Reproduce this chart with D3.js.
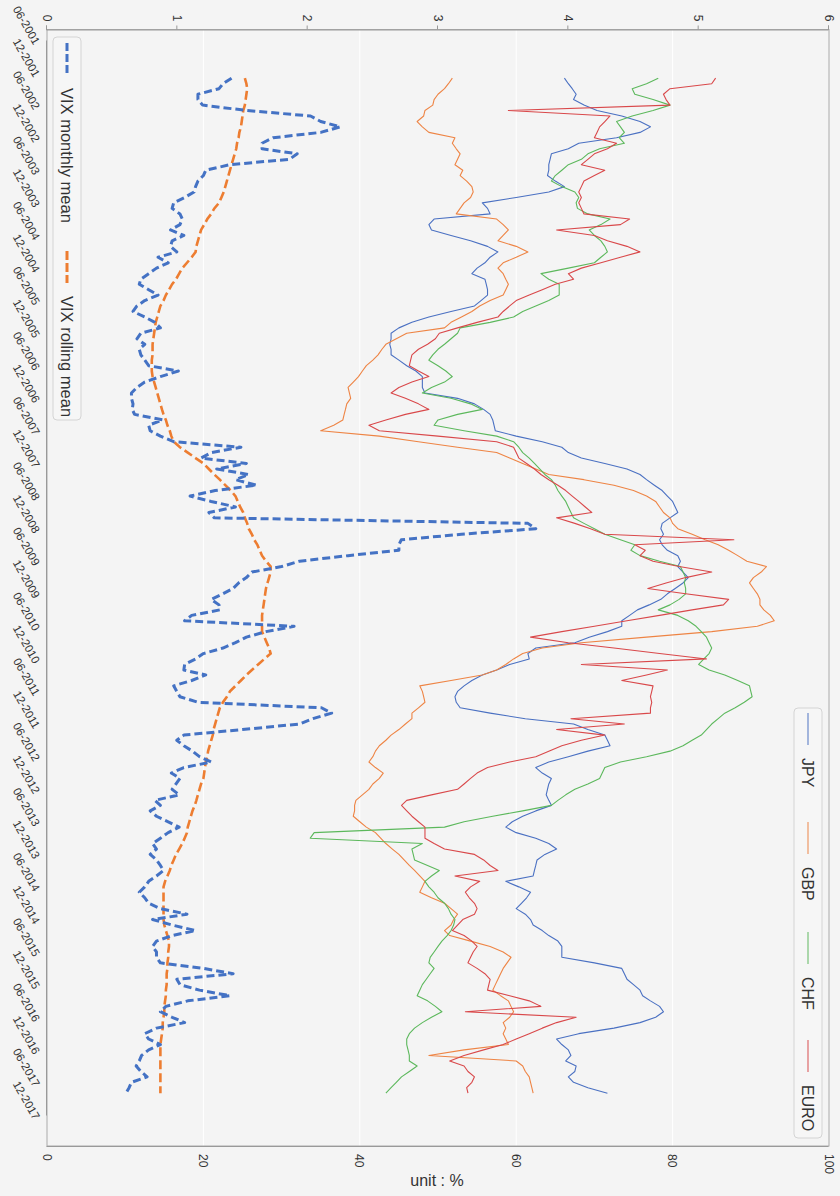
<!DOCTYPE html>
<html><head><meta charset="utf-8">
<script src="https://cdn.jsdelivr.net/npm/d3@7"></script>
<style>html,body{margin:0;padding:0;background:#f4f4f4;}svg{display:block;font-family:"Liberation Sans",Arial,sans-serif;}</style>
</head><body>
<svg id="c" width="840" height="1196"></svg>
<script>
// ---------- data ----------
const startMonth = "01-2002"; // first monthly observation
const dateTickLabels = ["06-2001","12-2001","06-2002","12-2002","06-2003","12-2003","06-2004","12-2004","06-2005","12-2005",
  "06-2006","12-2006","06-2007","12-2007","06-2008","12-2008","06-2009","12-2009","06-2010","12-2010","06-2011","12-2011",
  "06-2012","12-2012","06-2013","12-2013","06-2014","12-2014","06-2015","12-2015","06-2016","12-2016","06-2017","12-2017"];
const fxTicks = [0,1,2,3,4,5,6];
const vixTicks = [0,20,40,60,80,100];
const fxNames = ["JPY","GBP","CHF","EURO"];
const vixNames = ["VIX monthly mean","VIX rolling mean"];

const vixMonthly = [
23.6,22.5,22.0,19.3,19.3,19.9,25.5,33.7,35.0,37.5,35.0,28.9,
27.5,27.5,32.0,31.0,23.4,20.3,20.0,19.3,19.0,18.8,17.6,16.2,
16.0,17.0,17.3,17.0,15.8,17.5,16.0,15.8,16.6,14.2,15.5,14.0,
13.0,12.0,11.8,13.0,14.2,12.5,11.5,11.0,12.5,13.8,14.5,12.0,
11.5,12.5,11.8,12.0,12.5,13.0,16.8,14.5,12.5,11.5,10.8,10.8,
11.0,10.9,11.2,14.8,13.0,13.2,14.5,16.2,24.8,21.0,19.7,25.5,
21.7,25.8,24.1,26.8,21.5,18.3,21.0,24.1,20.7,21.4,61.5,62.5,
53.0,45.3,45.0,45.0,38.5,32.3,30.0,26.2,25.5,24.5,23.8,22.5,
21.0,22.0,22.1,18.5,17.6,31.6,28.0,25.5,24.1,22.5,20.0,19.0,
17.6,17.5,20.3,18.5,16.2,16.6,17.0,19.3,35.1,36.4,34.0,32.3,
25.0,17.5,16.6,17.5,18.6,19.5,21.0,17.5,15.9,17.0,16.5,16.0,
16.9,13.8,14.5,13.2,14.0,15.5,16.9,15.5,14.5,13.5,14.0,13.2,
14.0,14.5,14.9,14.0,13.0,12.5,11.8,12.5,13.0,14.5,17.9,13.5,
16.0,19.0,16.0,14.0,13.5,14.0,14.0,14.5,20.0,23.8,16.6,17.0,
19.5,23.4,18.0,15.2,14.5,16.0,17.6,14.0,12.5,13.0,14.5,13.0,
12.1,11.8,11.4,12.0,12.8,10.8,10.5,10.1];

const vixRolling = [
25.3,25.5,25.6,25.5,25.4,25.3,25.1,25.0,24.9,24.8,24.6,24.5,
24.3,24.2,24.0,23.8,23.6,23.4,23.2,23.0,22.8,22.6,22.3,22.0,
21.4,21.0,20.5,20.1,19.7,19.5,19.3,19.1,19.0,18.5,17.9,17.3,
16.9,16.5,16.0,15.6,15.2,14.9,14.5,14.3,14.1,13.9,13.8,13.7,
13.6,13.5,13.5,13.5,13.4,13.4,13.4,13.5,13.7,13.9,14.1,14.3,
14.5,14.7,14.9,15.2,15.4,15.7,15.9,16.2,17.0,18.0,19.0,20.0,
20.7,21.4,22.1,22.8,23.5,24.1,24.4,24.7,25.1,25.3,25.6,25.8,
26.2,26.5,26.9,27.2,27.5,28.0,28.6,28.6,28.4,28.2,28.0,27.9,
27.8,27.7,27.6,27.5,27.5,27.5,27.5,27.8,28.1,28.4,28.6,27.8,
27.0,26.2,25.5,24.8,24.1,23.4,23.0,22.5,22.1,21.9,21.7,21.5,
21.3,21.2,21.0,20.8,20.6,20.5,20.3,20.2,20.1,20.0,19.7,19.5,
19.3,19.1,18.9,18.6,18.4,18.2,18.0,17.9,17.6,17.3,16.9,16.5,
16.2,15.9,15.7,15.4,15.1,14.9,14.9,14.9,14.9,14.9,14.9,14.9,
15.0,15.2,15.4,15.6,15.6,15.5,15.5,15.4,15.4,15.3,15.3,15.3,
15.2,15.2,15.1,15.0,15.0,14.9,14.8,14.8,14.7,14.6,14.5,14.5,
14.5,14.5,14.5,14.5,14.5,14.5,14.5,14.5];

const jpy = [
3.97,4.00,4.03,4.06,4.04,4.12,4.22,4.41,4.55,4.63,4.55,4.37,
4.08,4.00,3.87,3.86,3.85,3.85,3.84,3.90,3.97,3.85,3.60,3.34,
3.38,3.40,2.97,2.93,2.95,3.10,3.25,3.38,3.46,3.40,3.36,3.30,
3.26,3.36,3.37,3.38,3.38,3.33,3.28,3.10,2.93,2.80,2.70,2.64,
2.64,2.63,2.64,2.64,2.70,2.76,2.83,2.88,2.88,2.88,2.90,3.15,
3.28,3.35,3.40,3.42,3.43,3.44,3.60,3.80,3.95,4.00,4.10,4.28,
4.45,4.55,4.60,4.66,4.72,4.76,4.80,4.82,4.84,4.78,4.72,4.71,
4.73,4.70,4.72,4.76,4.84,4.86,4.84,4.88,4.92,4.88,4.82,4.76,
4.71,4.62,4.53,4.47,4.41,4.41,4.30,4.16,4.05,3.75,3.69,3.70,
3.55,3.45,3.34,3.26,3.20,3.15,3.13,3.14,3.17,3.40,3.67,4.04,
4.15,4.28,4.30,4.32,4.15,4.00,3.85,3.75,3.80,3.87,3.85,3.84,
3.83,3.85,3.87,3.75,3.65,3.57,3.52,3.60,3.75,3.85,3.91,3.82,
3.76,3.75,3.74,3.73,3.52,3.62,3.71,3.68,3.64,3.60,3.67,3.71,
3.73,3.80,3.85,3.92,3.95,3.95,3.95,4.20,4.41,4.43,4.45,4.50,
4.55,4.57,4.63,4.70,4.73,4.67,4.55,4.35,4.08,3.91,3.95,4.00,
4.02,3.98,4.06,4.05,4.00,4.04,4.15,4.30];

const gbp = [
3.11,3.08,3.05,3.00,2.97,2.96,2.90,2.89,2.84,2.88,2.93,3.13,
3.11,3.14,3.17,3.15,3.13,3.19,3.17,3.22,3.26,3.27,3.25,3.20,
3.17,3.14,3.45,3.50,3.54,3.50,3.46,3.60,3.69,3.60,3.50,3.46,
3.50,3.52,3.54,3.52,3.50,3.40,3.32,3.26,3.18,3.10,3.05,2.76,
2.68,2.60,2.57,2.54,2.50,2.45,2.42,2.39,2.35,2.31,2.32,2.33,
2.30,2.29,2.28,2.27,2.20,2.10,2.55,2.85,3.15,3.45,3.55,3.65,
3.75,3.85,4.12,4.35,4.50,4.60,4.67,4.70,4.73,4.78,4.80,4.84,
4.95,5.05,5.15,5.23,5.30,5.37,5.52,5.48,5.42,5.39,5.42,5.45,
5.47,5.47,5.50,5.55,5.58,5.45,5.10,4.60,4.10,3.80,3.65,3.58,
3.52,3.45,3.34,3.10,2.86,2.88,2.89,2.90,2.85,2.80,2.80,2.75,
2.70,2.64,2.60,2.55,2.52,2.50,2.47,2.52,2.58,2.55,2.50,2.47,
2.42,2.37,2.36,2.36,2.35,2.40,2.45,2.52,2.56,2.60,2.65,2.70,
2.74,2.78,2.82,2.86,2.90,2.88,2.86,2.95,3.05,3.10,3.15,3.12,
3.10,3.05,3.09,3.25,3.40,3.50,3.56,3.53,3.50,3.48,3.46,3.44,
3.42,3.48,3.54,3.56,3.58,3.55,3.50,3.52,3.50,3.52,3.54,3.20,
2.93,3.60,3.65,3.67,3.70,3.71,3.72,3.73];

const chf = [
4.69,4.60,4.49,4.51,4.65,4.78,4.65,4.49,4.37,4.40,4.43,4.39,
4.43,4.24,4.15,4.10,4.00,3.95,3.90,3.87,3.95,4.05,4.08,4.06,
4.07,4.15,4.32,4.25,4.16,4.20,4.25,4.28,4.30,4.25,4.20,4.00,
3.79,3.85,3.93,3.93,3.93,3.85,3.75,3.65,3.58,3.40,3.17,3.15,
3.10,3.05,3.00,2.96,2.93,3.00,3.06,3.11,3.05,2.95,2.88,3.10,
3.25,3.34,3.15,3.00,2.97,3.20,3.45,3.58,3.62,3.65,3.70,3.74,
3.78,3.82,3.87,3.90,3.92,3.95,3.98,4.00,4.02,4.04,4.12,4.20,
4.28,4.40,4.51,4.48,4.55,4.70,4.86,4.88,4.90,4.89,4.90,4.90,
4.85,4.78,4.69,4.84,4.92,4.98,5.02,5.06,5.08,5.10,5.08,5.04,
5.00,5.08,5.20,5.30,5.39,5.40,5.41,5.35,5.28,5.20,5.15,5.10,
5.06,5.02,4.95,4.88,4.78,4.60,4.40,4.28,4.26,4.24,4.15,4.05,
3.98,3.92,3.87,3.65,3.42,3.20,3.05,2.05,2.02,2.88,2.80,2.81,
2.82,2.92,3.01,2.95,2.90,2.93,2.97,3.00,3.05,3.08,3.10,3.13,
3.12,3.10,3.07,3.03,3.00,2.97,2.94,2.93,2.97,2.94,2.91,2.88,
2.86,2.84,2.92,2.98,3.03,2.95,2.88,2.82,2.78,2.76,2.76,2.77,
2.78,2.78,2.84,2.78,2.72,2.68,2.64,2.60];

const euro = [
5.13,5.10,4.78,4.73,4.75,4.78,3.54,4.32,4.28,4.24,4.22,4.20,
4.37,4.30,4.20,4.15,4.10,4.28,4.20,4.12,4.10,4.08,4.10,4.08,
4.10,4.12,4.47,4.40,3.91,4.20,4.30,4.45,4.55,4.40,4.25,4.10,
4.00,4.04,3.90,3.80,3.70,3.60,3.55,3.50,3.46,3.30,3.15,3.01,
2.98,2.92,2.85,2.80,2.79,2.78,2.85,2.93,2.80,2.70,2.64,2.75,
2.85,2.93,2.75,2.60,2.47,2.55,3.00,3.45,3.58,3.60,3.62,3.68,
3.74,3.79,3.85,3.92,3.98,4.03,4.08,4.13,4.18,3.91,4.05,4.17,
4.28,5.27,4.51,4.59,4.55,4.65,4.85,5.10,4.90,4.75,4.61,4.90,
5.23,5.19,4.95,4.70,4.45,4.20,3.95,3.71,4.00,4.35,4.70,5.06,
4.10,4.76,4.60,4.41,4.65,4.64,4.63,4.64,4.63,4.63,4.02,4.43,
3.91,4.28,4.10,3.95,3.85,3.75,3.55,3.38,3.30,3.25,3.20,3.15,
2.95,2.76,2.72,2.76,2.80,2.85,2.90,2.90,2.90,2.97,3.05,3.28,
3.35,3.40,3.46,3.13,3.32,3.25,3.21,3.24,3.28,3.30,3.28,3.19,
3.15,3.11,3.20,3.26,3.30,3.27,3.25,3.23,3.30,3.36,3.40,3.39,
3.38,3.55,3.70,3.79,3.21,4.06,3.91,3.80,3.70,3.60,3.50,3.35,
3.20,3.09,3.20,3.23,3.28,3.26,3.22,3.23];

const fxColors = ["#4a70c2","#ee8444","#5cb85c","#d9484a"];
const vixColors = ["#4472c4","#ed7d31"];

// ---------- layout (chart drawn landscape, then turned 90deg) ----------
const svg = d3.select("#c");
svg.append("rect").attr("width",840).attr("height",1196).attr("fill","#f4f4f4");
const g = svg.append("g").attr("transform","translate(840,0) rotate(90)");

const L = 29.5, R = 1146, T = 11, B = 793;
const parse = s => { const [m,y] = s.split("-"); return new Date(+y, +m-1, 1); };
const s0 = parse(startMonth);
const dates = vixMonthly.map((d,i) => new Date(s0.getFullYear(), s0.getMonth()+i, 1));

const x = d3.scaleTime().domain([parse(dateTickLabels[0]), parse(dateTickLabels[dateTickLabels.length-1])]).range([40,1115]);
const yFx = d3.scaleLinear().domain([0,6]).range([B,T]);
const yVix = d3.scaleLinear().domain([0,100]).range([B,T]);

// grid
g.append("g").selectAll("line").data(vixTicks.slice(1,-1)).join("line")
  .attr("x1",L).attr("x2",R).attr("y1",d=>yVix(d)).attr("y2",d=>yVix(d))
  .attr("stroke","#ffffff").attr("stroke-width",1);

// frame
g.append("rect").attr("x",L).attr("y",T).attr("width",R-L).attr("height",B-T)
  .attr("fill","none").attr("stroke","#aaaaaa").attr("stroke-width",1);

// left (FX) axis
const ax1 = g.append("g").attr("transform",`translate(${L},0)`)
  .call(d3.axisLeft(yFx).tickValues(fxTicks).tickFormat(d3.format("d")).tickSize(4).tickPadding(4));
// right (VIX) axis
const ax2 = g.append("g").attr("transform",`translate(${R},0)`)
  .call(d3.axisRight(yVix).tickValues(vixTicks).tickFormat(d3.format("d")).tickSize(0).tickPadding(8));
// bottom (date) axis
const ax3 = g.append("g").attr("transform",`translate(0,${B})`)
  .call(d3.axisBottom(x).tickValues(dateTickLabels.map(parse)).tickFormat((d,i)=>dateTickLabels[i]).tickSize(0));
[ax1,ax2,ax3].forEach(a=>{
  a.select(".domain").attr("stroke","#999");
  a.selectAll(".tick line").attr("stroke","#999");
  a.selectAll("text").attr("fill","#333").attr("font-size",12).attr("font-family","'Liberation Sans',Arial,sans-serif");
});
ax3.selectAll("text").attr("y",0).attr("dy","0.35em").attr("text-anchor","end").attr("font-size",11.5)
  .attr("transform","translate(3,10) rotate(-30)");

// lines
const fxSeries = [jpy,gbp,chf,euro];
const lineFx = d3.line().x((d,i)=>x(dates[i])).y(d=>yFx(d));
const lineVix = d3.line().x((d,i)=>x(dates[i])).y(d=>yVix(d));
fxSeries.forEach((s,k)=>{
  g.append("path").attr("d",lineFx(s)).attr("fill","none")
   .attr("stroke",fxColors[k]).attr("stroke-width",1.1).attr("stroke-linejoin","round");
});
g.append("path").attr("d",lineVix(vixRolling)).attr("fill","none")
  .attr("stroke",vixColors[1]).attr("stroke-width",2.6).attr("stroke-dasharray","9,4");
g.append("path").attr("d",lineVix(vixMonthly)).attr("fill","none")
  .attr("stroke",vixColors[0]).attr("stroke-width",3).attr("stroke-dasharray","8,4").attr("stroke-linejoin","round");

// VIX legend
const lg1 = g.append("g");
lg1.append("rect").attr("x",37).attr("y",759).attr("width",383).attr("height",28).attr("rx",4)
  .attr("fill","#f6f6f6").attr("stroke","#d4d4d4");
const vixLegX = [43,251];
vixNames.forEach((n,k)=>{
  lg1.append("line").attr("x1",vixLegX[k]).attr("x2",vixLegX[k]+32).attr("y1",773).attr("y2",773)
    .attr("stroke",vixColors[k]).attr("stroke-width",3).attr("stroke-dasharray", k?"9,3":"8,3");
  lg1.append("text").attr("x",vixLegX[k]+45).attr("y",773).attr("dy","0.35em")
    .attr("font-size",16.5).attr("fill","#333").text(n);
});

// FX legend
const lg2 = g.append("g");
lg2.append("rect").attr("x",708).attr("y",18).attr("width",430).attr("height",28).attr("rx",4)
  .attr("fill","#f6f6f6").attr("stroke","#d4d4d4");
const fxLegX = [713,822,932,1040];
fxNames.forEach((n,k)=>{
  lg2.append("line").attr("x1",fxLegX[k]).attr("x2",fxLegX[k]+32).attr("y1",32).attr("y2",32)
    .attr("stroke",fxColors[k]).attr("stroke-width",1.2).attr("opacity",0.8);
  lg2.append("text").attr("x",fxLegX[k]+45).attr("y",32).attr("dy","0.35em")
    .attr("font-size",16).attr("fill","#333").text(n);
});

// axis name (upright in the final picture)
svg.append("text").attr("x",437).attr("y",1186).attr("text-anchor","middle")
  .attr("font-size",16).attr("fill","#333").text("unit : %");
</script>
</body></html>
